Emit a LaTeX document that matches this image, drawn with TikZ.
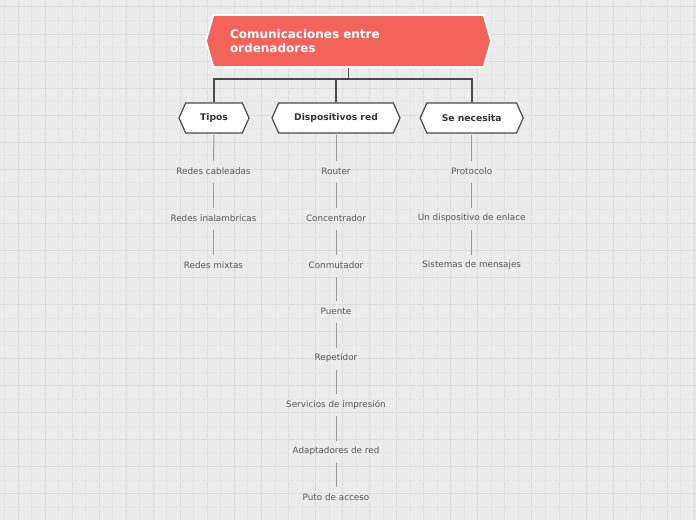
\documentclass[tikz,border=0pt]{standalone}
\usepackage{fontspec}
\setmainfont{DejaVu Sans}
\usetikzlibrary{shapes.symbols}
\definecolor{rootred}{HTML}{F2645A}
\definecolor{paper}{HTML}{ECECEC}
\definecolor{gridmajor}{HTML}{DEDEDE}
\definecolor{gridminor}{HTML}{E6E6E6}
\definecolor{edgegray}{HTML}{4A4A4A}
\definecolor{twiggray}{HTML}{9A9A9A}
\definecolor{leafgray}{HTML}{555555}
\begin{document}
\begin{tikzpicture}[x=0.75pt, y=-0.75pt,
    rootbox/.style={signal, signal to=east and west, signal pointer angle=148, fill=rootred, draw=white, line width=1.2pt,
      minimum width=213.75pt, minimum height=39pt, text width=177.75pt, align=left, inner sep=0pt,
      text=white, font=\fontsize{9}{10.5}\selectfont\bfseries},
    topicbox/.style={signal, signal to=east and west, signal pointer angle=132, fill=white, draw=edgegray, line width=0.9pt,
      minimum height=22.5pt, inner sep=0pt, text=black!80, font=\fontsize{6.9}{8}\selectfont\bfseries},
    leaf/.style={minimum height=15pt, inner sep=0pt, text=leafgray, font=\fontsize{6.6}{7.5}\selectfont},
    branch/.style={draw=edgegray, line width=1.2pt},
    twig/.style={draw=twiggray, line width=0.75pt, shorten <=1pt}]
  \useasboundingbox (0,0) rectangle (696,520);
  \fill[paper] (0,0) rectangle (696,520);
  % grid
  \foreach \i in {0,...,25} {
    \draw[gridminor, line width=0.75pt] (4.5+27.05*\i,0) -- (4.5+27.05*\i,520);
    \draw[gridmajor, line width=0.75pt] (18+27.05*\i,0) -- (18+27.05*\i,520);
  }
  \foreach \j in {0,...,18} {
    \draw[gridminor, line width=0.75pt] (0,20.5+27.05*\j) -- (696,20.5+27.05*\j);
    \draw[gridmajor, line width=0.75pt] (0,7+27.05*\j) -- (696,7+27.05*\j);
  }

  \node[rootbox] (root) at (348.5,41) {Comunicaciones entre\\ordenadores};
  \node[topicbox, minimum width=52.5pt] (tipos) at (214,118) {Tipos};
  \node[topicbox, minimum width=96pt] (disp) at (336,118) {Dispositivos red};
  \node[topicbox, minimum width=77.25pt] (need) at (471.7,118) {Se necesita};

  \coordinate (fork) at ([yshift=-8.25pt]root.south);
  \draw[branch] (root.south) -- (fork) (fork) -| (tipos.north) (fork) -| (disp.north) (fork) -| (need.north);

  % Tipos
  \node[leaf] (t1) at (213.5,171) {Redes cableadas};
  \node[leaf] (t2) at (213.5,218) {Redes inalambricas};
  \node[leaf] (t3) at (213.5,265) {Redes mixtas};
  \draw[twig] (tipos.south) -- (t1.north);
  \draw[twig] (t1.south) -- (t2.north);
  \draw[twig] (t2.south) -- (t3.north);

  % Dispositivos red
  \node[leaf] (d1) at (336,171) {Router};
  \node[leaf] (d2) at (336,218) {Concentrador};
  \node[leaf] (d3) at (336,265) {Conmutador};
  \node[leaf] (d4) at (336,311) {Puente};
  \node[leaf] (d5) at (336,358) {Repetidor};
  \node[leaf] (d6) at (336,404.5) {Servicios de impresión};
  \node[leaf] (d7) at (336,451) {Adaptadores de red};
  \node[leaf] (d8) at (336,497.5) {Puto de acceso};
  \draw[twig] (disp.south) -- (d1.north);
  \draw[twig] (d1.south) -- (d2.north);
  \draw[twig] (d2.south) -- (d3.north);
  \draw[twig] (d3.south) -- (d4.north);
  \draw[twig] (d4.south) -- (d5.north);
  \draw[twig] (d5.south) -- (d6.north);
  \draw[twig] (d6.south) -- (d7.north);
  \draw[twig] (d7.south) -- (d8.north);

  % Se necesita
  \node[leaf] (n1) at (471.7,171) {Protocolo};
  \node[leaf] (n2) at (471.7,218) {Un dispositivo de enlace};
  \node[leaf] (n3) at (471.7,265) {Sistemas de mensajes};
  \draw[twig] (need.south) -- (n1.north);
  \draw[twig] (n1.south) -- (n2.north);
  \draw[twig] (n2.south) -- (n3.north);
\end{tikzpicture}
\end{document}
